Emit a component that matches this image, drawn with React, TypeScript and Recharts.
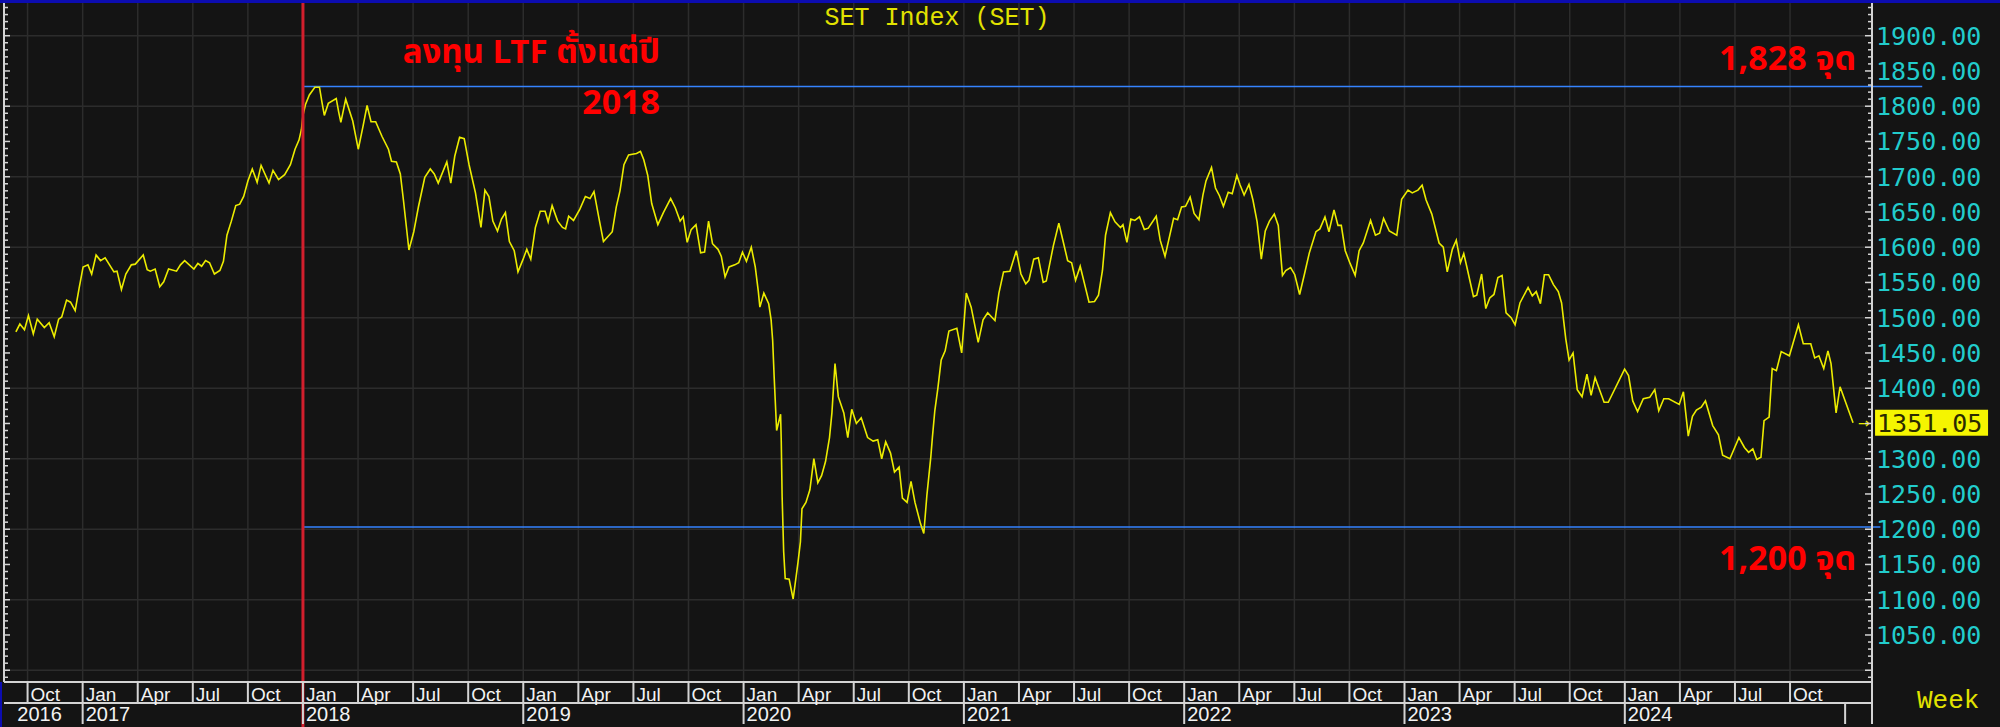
import { LineChart, Line, XAxis, YAxis, CartesianGrid, ReferenceLine, ReferenceDot } from 'recharts'

// Weekly closes of the SET index.
// t = position in decimal years, v = index level
const t2016 = [2016.697, 2016.715, 2016.736, 2016.754, 2016.776, 2016.794, 2016.826, 2016.848, 2016.871, 2016.891, 2016.905, 2016.927, 2016.945, 2016.966, 2016.984]
const v2016 = [1480, 1491, 1483, 1503, 1477, 1498, 1486, 1493, 1473, 1498, 1501, 1525, 1522, 1510, 1542]

const t2017 = [2017.002, 2017.024, 2017.041, 2017.061, 2017.081, 2017.102, 2017.142, 2017.156, 2017.176, 2017.196, 2017.221, 2017.239, 2017.275, 2017.293, 2017.307, 2017.329, 2017.35, 2017.368, 2017.39, 2017.426, 2017.444, 2017.463, 2017.505, 2017.523, 2017.54, 2017.558, 2017.576, 2017.598, 2017.623, 2017.639, 2017.655, 2017.675, 2017.695, 2017.713, 2017.731, 2017.75, 2017.77, 2017.792, 2017.81, 2017.846, 2017.864, 2017.889, 2017.917, 2017.943, 2017.964, 2017.982, 2017.993]
const v2017 = [1572, 1575, 1562, 1589, 1581, 1585, 1565, 1566, 1540, 1562, 1575, 1576, 1589, 1568, 1566, 1569, 1544, 1551, 1569, 1566, 1575, 1581, 1569, 1577, 1573, 1581, 1578, 1562, 1567, 1580, 1617, 1637, 1659, 1661, 1672, 1694, 1711, 1692, 1716, 1691, 1709, 1696, 1703, 1717, 1739, 1752, 1767]

const t2018 = [2018.0, 2018.011, 2018.029, 2018.054, 2018.075, 2018.086, 2018.097, 2018.115, 2018.151, 2018.162, 2018.172, 2018.194, 2018.226, 2018.251, 2018.273, 2018.291, 2018.309, 2018.33, 2018.359, 2018.388, 2018.402, 2018.424, 2018.442, 2018.456, 2018.481, 2018.503, 2018.524, 2018.553, 2018.578, 2018.596, 2018.614, 2018.653, 2018.671, 2018.689, 2018.711, 2018.732, 2018.754, 2018.783, 2018.808, 2018.826, 2018.844, 2018.862, 2018.883, 2018.901, 2018.919, 2018.937, 2018.959, 2018.976, 2018.998]
const v2018 = [1787, 1802, 1816, 1827, 1827, 1806, 1787, 1804, 1811, 1792, 1777, 1810, 1779, 1739, 1772, 1801, 1778, 1778, 1757, 1739, 1722, 1721, 1704, 1667, 1596, 1622, 1657, 1699, 1711, 1704, 1691, 1721, 1691, 1729, 1756, 1754, 1717, 1677, 1628, 1681, 1672, 1637, 1623, 1640, 1649, 1608, 1595, 1565, 1582]

const t2019 = [2019.016, 2019.034, 2019.055, 2019.077, 2019.099, 2019.113, 2019.131, 2019.156, 2019.178, 2019.192, 2019.206, 2019.228, 2019.257, 2019.282, 2019.303, 2019.321, 2019.343, 2019.364, 2019.404, 2019.422, 2019.439, 2019.457, 2019.478, 2019.514, 2019.532, 2019.547, 2019.565, 2019.583, 2019.611, 2019.636, 2019.669, 2019.69, 2019.712, 2019.726, 2019.744, 2019.762, 2019.784, 2019.805, 2019.823, 2019.841, 2019.859, 2019.884, 2019.899, 2019.916, 2019.934, 2019.96, 2019.978, 2019.995]
const v2019 = [1597, 1583, 1628, 1651, 1651, 1636, 1659, 1637, 1628, 1626, 1644, 1638, 1654, 1672, 1669, 1679, 1642, 1608, 1622, 1657, 1680, 1717, 1731, 1733, 1736, 1724, 1702, 1662, 1632, 1649, 1669, 1656, 1637, 1643, 1607, 1625, 1632, 1592, 1593, 1637, 1605, 1597, 1587, 1558, 1572, 1575, 1578, 1593]

const t2020 = [2020.013, 2020.035, 2020.053, 2020.067, 2020.074, 2020.092, 2020.114, 2020.125, 2020.132, 2020.139, 2020.15, 2020.168, 2020.171, 2020.175, 2020.182, 2020.189, 2020.207, 2020.225, 2020.247, 2020.258, 2020.265, 2020.283, 2020.301, 2020.319, 2020.337, 2020.354, 2020.372, 2020.39, 2020.401, 2020.415, 2020.43, 2020.455, 2020.473, 2020.491, 2020.512, 2020.534, 2020.563, 2020.588, 2020.609, 2020.627, 2020.645, 2020.667, 2020.685, 2020.706, 2020.721, 2020.742, 2020.76, 2020.778, 2020.803, 2020.818, 2020.832, 2020.85, 2020.857, 2020.868, 2020.882, 2020.897, 2020.915, 2020.932, 2020.968, 2020.99]
const v2020 = [1580, 1600, 1572, 1537, 1515, 1535, 1520, 1497, 1468, 1415, 1340, 1363, 1325, 1246, 1168, 1130, 1129, 1101, 1153, 1182, 1229, 1238, 1256, 1300, 1266, 1276, 1296, 1330, 1365, 1435, 1388, 1365, 1330, 1370, 1350, 1358, 1330, 1325, 1327, 1300, 1324, 1308, 1281, 1288, 1244, 1238, 1268, 1238, 1208, 1194, 1248, 1303, 1330, 1368, 1400, 1440, 1453, 1481, 1485, 1450]

const t2021 = [2021.011, 2021.033, 2021.065, 2021.087, 2021.108, 2021.141, 2021.159, 2021.18, 2021.209, 2021.238, 2021.259, 2021.281, 2021.295, 2021.317, 2021.338, 2021.36, 2021.374, 2021.406, 2021.431, 2021.453, 2021.471, 2021.489, 2021.507, 2021.528, 2021.568, 2021.593, 2021.611, 2021.629, 2021.643, 2021.665, 2021.686, 2021.711, 2021.722, 2021.74, 2021.758, 2021.776, 2021.797, 2021.819, 2021.837, 2021.873, 2021.891, 2021.913, 2021.952, 2021.97, 2021.988]
const v2021 = [1535, 1515, 1465, 1497, 1507, 1496, 1535, 1565, 1566, 1595, 1562, 1548, 1553, 1583, 1585, 1550, 1552, 1602, 1634, 1605, 1581, 1578, 1553, 1573, 1522, 1523, 1532, 1567, 1617, 1649, 1636, 1628, 1632, 1607, 1640, 1638, 1643, 1625, 1627, 1644, 1610, 1587, 1641, 1639, 1657]

const t2022 = [2022.006, 2022.027, 2022.045, 2022.067, 2022.085, 2022.099, 2022.124, 2022.142, 2022.16, 2022.178, 2022.2, 2022.218, 2022.239, 2022.253, 2022.272, 2022.294, 2022.312, 2022.331, 2022.35, 2022.368, 2022.387, 2022.409, 2022.427, 2022.446, 2022.461, 2022.483, 2022.502, 2022.524, 2022.546, 2022.568, 2022.598, 2022.616, 2022.639, 2022.657, 2022.68, 2022.698, 2022.713, 2022.731, 2022.753, 2022.776, 2022.794, 2022.813, 2022.846, 2022.868, 2022.887, 2022.905, 2022.931, 2022.965, 2022.987]
const v2022 = [1658, 1671, 1648, 1639, 1674, 1694, 1713, 1684, 1673, 1658, 1678, 1676, 1702, 1689, 1674, 1689, 1667, 1636, 1583, 1623, 1637, 1647, 1631, 1560, 1567, 1571, 1561, 1533, 1562, 1592, 1622, 1626, 1643, 1622, 1653, 1631, 1631, 1595, 1577, 1560, 1595, 1606, 1638, 1617, 1620, 1641, 1623, 1617, 1668]

const t2023 = [2023.016, 2023.035, 2023.061, 2023.08, 2023.098, 2023.124, 2023.157, 2023.176, 2023.194, 2023.217, 2023.235, 2023.254, 2023.269, 2023.283, 2023.313, 2023.328, 2023.35, 2023.369, 2023.387, 2023.406, 2023.424, 2023.443, 2023.461, 2023.484, 2023.502, 2023.524, 2023.561, 2023.58, 2023.598, 2023.617, 2023.635, 2023.654, 2023.676, 2023.698, 2023.713, 2023.732, 2023.747, 2023.765, 2023.784, 2023.806, 2023.828, 2023.847, 2023.865, 2023.906, 2023.925, 2023.999]
const v2023 = [1681, 1677, 1681, 1688, 1667, 1647, 1606, 1600, 1565, 1597, 1610, 1578, 1591, 1572, 1530, 1532, 1562, 1513, 1528, 1533, 1557, 1560, 1507, 1500, 1490, 1521, 1543, 1531, 1537, 1520, 1561, 1561, 1547, 1537, 1521, 1470, 1440, 1450, 1398, 1388, 1420, 1390, 1415, 1380, 1380, 1427]

const t2024 = [2024.017, 2024.036, 2024.058, 2024.084, 2024.113, 2024.136, 2024.154, 2024.177, 2024.199, 2024.247, 2024.266, 2024.288, 2024.307, 2024.325, 2024.347, 2024.366, 2024.399, 2024.425, 2024.444, 2024.477, 2024.518, 2024.543, 2024.562, 2024.581, 2024.599, 2024.618, 2024.632, 2024.655, 2024.669, 2024.688, 2024.71, 2024.747, 2024.788, 2024.81, 2024.844, 2024.862, 2024.881, 2024.903, 2024.922, 2024.936, 2024.959, 2024.977, 2024.999, 2025.036]
const v2024 = [1418, 1382, 1367, 1385, 1387, 1398, 1368, 1385, 1385, 1377, 1395, 1332, 1360, 1369, 1373, 1382, 1347, 1334, 1305, 1300, 1330, 1316, 1309, 1314, 1299, 1302, 1354, 1359, 1428, 1425, 1452, 1446, 1490, 1463, 1463, 1443, 1446, 1428, 1453, 1435, 1365, 1402, 1383, 1351.05]

// axis ticks / labels
const monthNames = ['Jan', 'Apr', 'Jul', 'Oct']
const quarterTicks = [
  2016.75,
  2017, 2017.25, 2017.5, 2017.75,
  2018, 2018.25, 2018.5, 2018.75,
  2019, 2019.25, 2019.5, 2019.75,
  2020, 2020.25, 2020.5, 2020.75,
  2021, 2021.25, 2021.5, 2021.75,
  2022, 2022.25, 2022.5, 2022.75,
  2023, 2023.25, 2023.5, 2023.75,
  2024, 2024.25, 2024.5, 2024.75,
]
const yearTicks = [2017, 2018, 2019, 2020, 2021, 2022, 2023, 2024, 2025]
const yearLabels = ['2016', '2017', '2018', '2019', '2020', '2021', '2022', '2023', '2024']
// 1350 is covered by the last-price box
const priceLabels = [1050, 1100, 1150, 1200, 1250, 1300, 1400, 1450, 1500, 1550, 1600, 1650, 1700, 1750, 1800, 1850, 1900]
const gridLevels = [1000, 1100, 1200, 1300, 1400, 1500, 1600, 1700, 1800, 1900]

// annotations
const LTF_START = 2018
const HIGH_LEVEL = 1828
const LOW_LEVEL = 1203

const SEGMENTS: [number[], number[]][] = [
  [t2016, v2016], [t2017, v2017], [t2018, v2018], [t2019, v2019], [t2020, v2020],
  [t2021, v2021], [t2022, v2022], [t2023, v2023], [t2024, v2024],
]
const data = SEGMENTS.flatMap(([t, v]) => t.map((x, i) => ({ t: x, v: v[i] })))
const last = data[data.length - 1]

const W = 2000
const H = 727
const X_MIN = 2016.643
const X_MAX = 2025.122
const Y_MIN = 983.3
const Y_MAX = 1946.4
const minorTicks = Array.from({ length: 96 }, (_, i) => 990 + i * 10)

const AXIS_R = 1872
const AXIS_L = 4
const ROW1 = 682
const ROW2 = 703
const ROW3 = 724
const FRAME = '#d4d4d4'
const YELLOW = '#ecec00'

function RightTick({ y, payload }: any) {
  const v = payload.value
  const major = v % 50 === 0
  return (
    <g>
      <line x1={AXIS_R - (major ? 7 : 4)} x2={AXIS_R} y1={y} y2={y} stroke={FRAME} strokeWidth={1.5} />
      {priceLabels.includes(v) && (
        <text x={AXIS_R + 4} y={y} dy="0.36em" fill="#22cccc" fontSize={25} fontFamily="'DejaVu Sans Mono', monospace">
          {v.toFixed(2)}
        </text>
      )}
    </g>
  )
}

function LeftTick({ y, payload }: any) {
  const major = payload.value % 50 === 0
  return <line x1={AXIS_L} x2={AXIS_L + (major ? 6 : 4)} y1={y} y2={y} stroke={FRAME} strokeWidth={1.5} />
}

function MonthTick({ x, payload }: any) {
  const v = payload.value
  const end = v >= X_MAX - 1e-6
  const label = end ? '' : monthNames[Math.round((v - Math.floor(v)) * 4) % 4]
  return (
    <g>
      <line x1={x} x2={x} y1={ROW1} y2={ROW2} stroke={FRAME} strokeWidth={2} />
      <text x={x + 3} y={ROW2 - 2} fill="#f2f2f2" fontSize={19} fontFamily="'Liberation Sans', Arial, sans-serif">
        {label}
      </text>
    </g>
  )
}

function YearTick({ x, payload }: any) {
  const v = payload.value
  const first = v < 2017
  const idx = first ? 0 : Math.round(v) - 2016
  const label = v >= X_MAX - 1e-6 ? '' : yearLabels[idx] ?? ''
  return (
    <g>
      {!first && <line x1={x} x2={x} y1={ROW2} y2={ROW3} stroke={FRAME} strokeWidth={2} />}
      <text x={x + 3} y={ROW3 - 3} fill="#f2f2f2" fontSize={20} fontFamily="'Liberation Sans', Arial, sans-serif">
        {label}
      </text>
    </g>
  )
}

function LastValue({ cx, cy }: any) {
  return (
    <g>
      <text x={cx + 5} y={cy} dy="0.35em" fill={YELLOW} fontSize={14} fontFamily="'DejaVu Sans', sans-serif">→</text>
      <rect x={cx + 22} y={cy - 13} width={113} height={26} fill="#f5f500" />
      <text x={cx + 24} y={cy} dy="0.36em" fill="#2a2a00" fontSize={25} fontFamily="'DejaVu Sans Mono', monospace">
        {last.v.toFixed(2)}
      </text>
    </g>
  )
}

const thai = "'Noto Sans Thai', 'Noto Sans', 'DejaVu Sans', sans-serif"

export default function App() {
  return (
    <div style={{ position: 'fixed', left: 0, top: 0, width: W, height: H, background: '#141414', overflow: 'hidden' }}>
      <LineChart width={W} height={H} data={data} margin={{ top: 3, right: 0, left: 0, bottom: 3 }}>
        <CartesianGrid stroke="#2c2c2c" strokeWidth={1.5} horizontalValues={gridLevels} verticalValues={quarterTicks} />
        <XAxis
          dataKey="t"
          type="number"
          domain={[X_MIN, X_MAX]}
          allowDataOverflow
          ticks={[...quarterTicks, X_MAX]}
          interval={0}
          height={21}
          axisLine={{ stroke: FRAME, strokeWidth: 2 }}
          tickLine={false}
          tick={MonthTick}
        />
        <XAxis
          xAxisId="yr"
          dataKey="t"
          type="number"
          domain={[X_MIN, X_MAX]}
          allowDataOverflow
          ticks={[2016.69, ...yearTicks, X_MAX]}
          interval={0}
          height={21}
          axisLine={{ stroke: FRAME, strokeWidth: 2 }}
          tickLine={false}
          tick={YearTick}
        />
        <YAxis
          orientation="right"
          type="number"
          domain={[Y_MIN, Y_MAX]}
          allowDataOverflow
          ticks={minorTicks}
          interval={0}
          width={128}
          axisLine={{ stroke: FRAME, strokeWidth: 2 }}
          tickLine={false}
          tick={RightTick}
        />
        <YAxis
          yAxisId="l"
          orientation="left"
          type="number"
          domain={[Y_MIN, Y_MAX]}
          allowDataOverflow
          ticks={minorTicks}
          interval={0}
          width={4}
          axisLine={{ stroke: FRAME, strokeWidth: 2 }}
          tickLine={false}
          tick={LeftTick}
        />
        <ReferenceLine
          segment={[{ x: LTF_START, y: HIGH_LEVEL }, { x: 2025.35, y: HIGH_LEVEL }]}
          stroke="#3583ff"
          strokeWidth={1.5}
          ifOverflow="visible"
        />
        <ReferenceLine
          segment={[{ x: LTF_START, y: LOW_LEVEL }, { x: 2025.16, y: LOW_LEVEL }]}
          stroke="#3583ff"
          strokeWidth={1.5}
          ifOverflow="visible"
        />
        <Line
          type="linear"
          dataKey="v"
          stroke={YELLOW}
          strokeWidth={1.6}
          dot={false}
          isAnimationActive={false}
        />
        <ReferenceLine
          segment={[{ x: LTF_START, y: 919 }, { x: LTF_START, y: 1950 }]}
          stroke="#d21f2d"
          strokeWidth={3}
          ifOverflow="visible"
        />
        <ReferenceDot x={last.t} y={last.v} r={0} ifOverflow="visible" shape={LastValue} />
      </LineChart>
      <svg width={W} height={H} style={{ position: 'absolute', left: 0, top: 0, pointerEvents: 'none' }}>
        <rect x={0} y={0} width={W} height={3} fill="#0c0cb0" />
        <rect x={0} y={ROW1} width={2} height={H - ROW1} fill="#0c0cb0" />
        <text x={937} y={25} textAnchor="middle" fill="#e2e200" fontSize={25} fontFamily="'Liberation Mono', 'Courier New', monospace">
          SET Index (SET)
        </text>
        <text x={1917} y={708} fill="#e2e200" fontSize={26} fontFamily="'Liberation Mono', 'Courier New', monospace">
          Week
        </text>
        <g fill="#ff0000" fontWeight={700} fontFamily={thai} textAnchor="end">
          <text x={660} y={63} fontSize={33}>ลงทุน LTF ตั้งแต่ปี</text>
          <text x={660} y={114} fontSize={34}>2018</text>
          <text x={1856} y={70} fontSize={34}>1,828 จุด</text>
          <text x={1856} y={570} fontSize={34}>1,200 จุด</text>
        </g>
      </svg>
    </div>
  )
}
